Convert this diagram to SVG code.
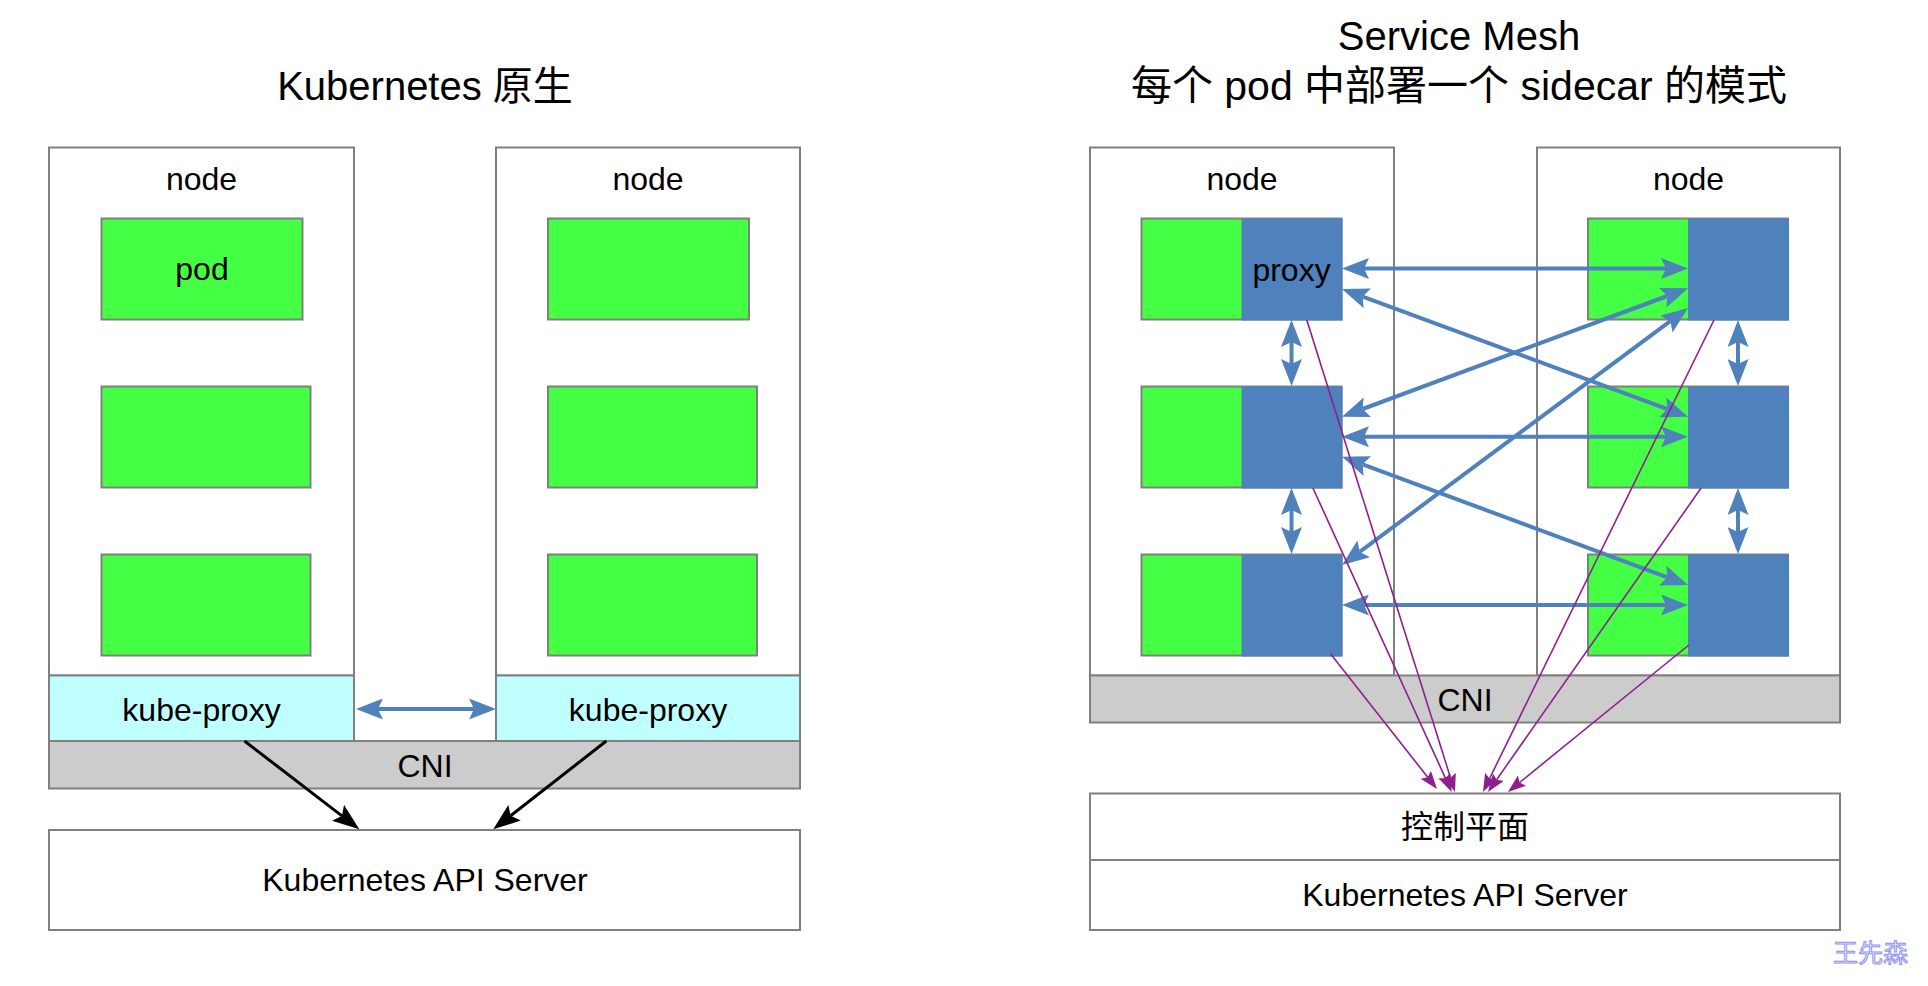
<svg xmlns="http://www.w3.org/2000/svg" width="1928" height="986" viewBox="0 0 1928 986">
<style>
text{font-family:"Liberation Sans","Noto Sans CJK SC",sans-serif;fill:#000;text-anchor:middle}
.t{font-size:40px}
.t2{font-size:41px}
.l{font-size:32px}
.box{fill:#fff;stroke:#808080;stroke-width:2}
.pod{fill:#44FF44;stroke:#808080;stroke-width:2}
.px{fill:#4F81BD;stroke:none}
.kp{fill:#C0FFFF;stroke:#808080;stroke-width:2}
.cni{fill:#CCCCCC;stroke:#808080;stroke-width:2}
.blue{stroke:#4F81BD;stroke-width:4;fill:none;marker-start:url(#ab);marker-end:url(#ab)}
.blk{stroke:#000;stroke-width:3;fill:none;marker-end:url(#ak)}
.pur{stroke:#8F1F8F;stroke-width:1.6;fill:none;marker-end:url(#ap)}
.wm{font-size:25px;fill:#F2F2FF;stroke:#9090F0;stroke-width:1}
</style>
<defs>
<marker id="ab" markerUnits="userSpaceOnUse" markerWidth="27" markerHeight="21" viewBox="0 0 27 21" refX="5" refY="10.5" orient="auto-start-reverse"><path d="M0,0 L27,10.5 L0,21 L5,10.5 Z" fill="#4F81BD"/></marker>
<marker id="ak" markerUnits="userSpaceOnUse" markerWidth="27" markerHeight="20" viewBox="0 0 27 20" refX="5" refY="10" orient="auto"><path d="M0,0 L27,10 L0,20 L5,10 Z" fill="#000"/></marker>
<marker id="ap" markerUnits="userSpaceOnUse" markerWidth="18" markerHeight="13" viewBox="0 0 18 13" refX="3" refY="6.5" orient="auto"><path d="M0,0 L18,6.5 L0,13 L3,6.5 Z" fill="#8F1F8F"/></marker>
</defs>

<g id="title-left"><text class="t" x="425" y="100">Kubernetes 原生</text></g>
<g id="title-right"><text class="t" x="1459" y="50">Service Mesh</text><text class="t2" x="1459" y="100">每个 pod 中部署一个 sidecar 的模式</text></g>

<g id="node1">
<rect class="box" x="49" y="147.5" width="305" height="528"/>
<text class="l" x="201.5" y="190">node</text>
<rect class="pod" x="101.5" y="218.5" width="201" height="101"/>
<text class="l" x="202" y="280">pod</text>
<rect class="pod" x="101.5" y="386.5" width="209" height="101"/>
<rect class="pod" x="101.5" y="554.5" width="209" height="101"/>
</g>
<g id="kube-proxy1"><rect class="kp" x="49" y="675.5" width="305" height="65.5"/><text class="l" x="201.5" y="721">kube-proxy</text></g>

<g id="node2">
<rect class="box" x="496" y="147.5" width="304" height="528"/>
<text class="l" x="648" y="190">node</text>
<rect class="pod" x="548" y="218.5" width="201" height="101"/>
<rect class="pod" x="548" y="386.5" width="209" height="101"/>
<rect class="pod" x="548" y="554.5" width="209" height="101"/>
</g>
<g id="kube-proxy2"><rect class="kp" x="496" y="675.5" width="304" height="65.5"/><text class="l" x="648" y="721">kube-proxy</text></g>

<g id="cni-left"><rect class="cni" x="49" y="741" width="751" height="47.5"/><text class="l" x="425" y="777">CNI</text></g>
<g id="api-left"><rect class="box" x="49" y="830" width="751" height="100"/><text class="l" x="425" y="891">Kubernetes API Server</text></g>

<g id="node3">
<rect class="box" x="1090" y="147.5" width="304" height="528"/>
<text class="l" x="1242" y="190">node</text>
<rect class="pod" x="1141.5" y="218.5" width="200" height="101"/><rect class="px" x="1241.5" y="218.5" width="101" height="102"/>
<text class="l" x="1291.5" y="280.5">proxy</text>
<rect class="pod" x="1141.5" y="386.5" width="200" height="101"/><rect class="px" x="1241.5" y="386.5" width="101" height="102"/>
<rect class="pod" x="1141.5" y="554.5" width="200" height="101"/><rect class="px" x="1241.5" y="554.5" width="101" height="102"/>
</g>

<g id="node4">
<rect class="box" x="1537" y="147.5" width="303" height="528"/>
<text class="l" x="1688.5" y="190">node</text>
<rect class="pod" x="1588" y="218.5" width="200" height="101"/><rect class="px" x="1688" y="218.5" width="101" height="102"/>
<rect class="pod" x="1588" y="386.5" width="200" height="101"/><rect class="px" x="1688" y="386.5" width="101" height="102"/>
<rect class="pod" x="1588" y="554.5" width="200" height="101"/><rect class="px" x="1688" y="554.5" width="101" height="102"/>
</g>

<g id="cni-right"><rect class="cni" x="1090" y="675.5" width="750" height="47"/><text class="l" x="1465" y="711">CNI</text></g>
<g id="control-plane"><rect class="box" x="1090" y="793.5" width="750" height="66.5"/><text class="l" x="1465" y="838">控制平面</text></g>
<g id="api-right"><rect class="box" x="1090" y="860" width="750" height="70"/><text class="l" x="1465" y="906">Kubernetes API Server</text></g>

<g id="connectors">
<line class="blue" x1="378" y1="709" x2="474" y2="709"/>
<line class="blk" x1="244.5" y1="741" x2="341.9" y2="815.9"/>
<line class="blk" x1="606.3" y1="741" x2="510.6" y2="815.8"/>

<line class="blue" x1="1364" y1="268.5" x2="1666" y2="268.5"/>
<line class="blue" x1="1362.6" y1="296.6" x2="1667.4" y2="409.1"/>
<line class="blue" x1="1362.6" y1="409.0" x2="1667.4" y2="296.0"/>
<line class="blue" x1="1359.7" y1="551.9" x2="1670.3" y2="321.1"/>
<line class="blue" x1="1364" y1="436.7" x2="1666" y2="436.7"/>
<line class="blue" x1="1362.6" y1="464.3" x2="1667.4" y2="577.3"/>
<line class="blue" x1="1364" y1="605" x2="1666" y2="605"/>

<line class="blue" x1="1291.5" y1="342" x2="1291.5" y2="364"/>
<line class="blue" x1="1291.5" y1="510" x2="1291.5" y2="532"/>
<line class="blue" x1="1738" y1="342" x2="1738" y2="364"/>
<line class="blue" x1="1738" y1="510" x2="1738" y2="532"/>

<line class="pur" x1="1306.8" y1="320" x2="1450.5" y2="777.7"/>
<line class="pur" x1="1312.9" y1="488" x2="1445.5" y2="778.3"/>
<line class="pur" x1="1330.7" y1="654" x2="1427.7" y2="777.2"/>
<line class="pur" x1="1714" y1="320" x2="1489.6" y2="778.5"/>
<line class="pur" x1="1701.1" y1="488" x2="1496.6" y2="779.7"/>
<line class="pur" x1="1688.8" y1="645" x2="1519.6" y2="782.5"/>
</g>

<g id="watermark"><text class="wm" x="1870.5" y="962">王先森</text></g>
</svg>
